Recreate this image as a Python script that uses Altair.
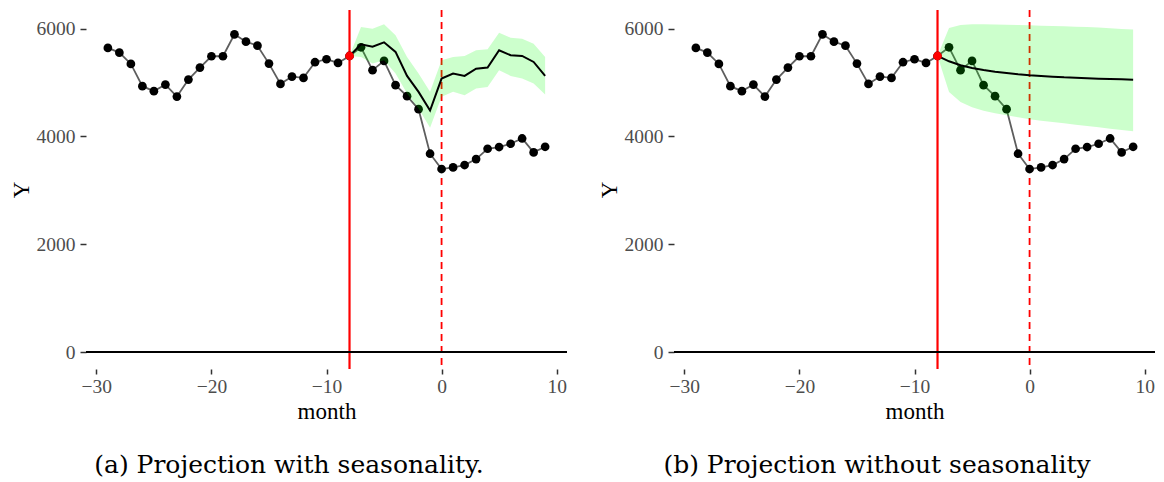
import altair as alt
import pandas as pd

# observed series (month -29 .. 9)
months = list(range(-29, 10))
values = [5643, 5556, 5346, 4933, 4841, 4963, 4741, 5056, 5278, 5489,
          5489, 5896, 5759, 5685, 5352, 4976, 5111, 5087, 5378, 5433,
          5365, 5494, 5655, 5230, 5402, 4952, 4748, 4507, 3680, 3396,
          3426, 3470, 3581, 3772, 3804, 3865, 3963, 3704, 3809]

# projection months (-8 .. 9)
proj_months = list(range(-8, 10))

# (a) with seasonality
seas_fit = [5494, 5711, 5667, 5748, 5569, 5124, 4828, 4481, 5074, 5167,
            5124, 5259, 5278, 5600, 5507, 5494, 5383, 5124]
seas_hi = [5494, 6031, 6000, 6081, 5878, 5476, 5167, 4828, 5415, 5476,
           5494, 5600, 5619, 5926, 5833, 5815, 5722, 5476]
seas_lo = [5494, 5476, 5352, 5415, 5167, 4796, 4519, 4161, 4735, 4828,
           4767, 4889, 4920, 5230, 5124, 5074, 4981, 4778]

# (b) without seasonality
flat_fit = [5494, 5395, 5321, 5271, 5234, 5203, 5178, 5154, 5135, 5122,
            5110, 5098, 5091, 5080, 5072, 5067, 5061, 5054]
flat_hi = [5494, 6013, 6069, 6082, 6082, 6078, 6073, 6069, 6064, 6057,
           6051, 6045, 6038, 6032, 6020, 6008, 5995, 5983]
flat_lo = [5494, 4826, 4640, 4541, 4479, 4430, 4393, 4356, 4319, 4293,
           4269, 4244, 4219, 4195, 4170, 4145, 4120, 4096]

x_ticks = [-30, -20, -10, 0, 10]
y_ticks = [0, 2000, 4000, 6000]
intervention_start = [-8]
intervention_ref = [0]
captions = ["(a) Projection with seasonality.", "(b) Projection without seasonality"]

X_DOMAIN = [-30.9, 10.9]
Y_DOMAIN = [-315, 6347]
W, H = 481, 359

obs = pd.DataFrame({"month": months, "Y": values})
start_pt = obs[obs["month"] == intervention_start[0]]

LABEL_FONT = "Liberation Serif"

x_axis = alt.Axis(values=x_ticks, title="month", grid=False, domain=False, format="d",
                  tickSize=5, tickWidth=1.5, tickColor="#333333",
                  labelFont=LABEL_FONT, labelFontSize=19.5, labelColor="#4d4d4d",
                  labelPadding=3, titleFont=LABEL_FONT, titleFontSize=23,
                  titleFontWeight="normal", titleColor="black", titlePadding=5)
y_axis = alt.Axis(values=y_ticks, title="Y", grid=False, domain=False, format="d",
                  tickSize=6, tickWidth=1.5, tickColor="#333333",
                  labelFont=LABEL_FONT, labelFontSize=19.5, labelColor="#4d4d4d",
                  labelPadding=5, titleFont=LABEL_FONT, titleFontSize=23,
                  titleFontWeight="normal", titleColor="black", titlePadding=3)

xs = alt.Scale(domain=X_DOMAIN, nice=False, zero=False)
ys = alt.Scale(domain=Y_DOMAIN, nice=False, zero=False)


def X(field="month"):
    return alt.X(f"{field}:Q", scale=xs, axis=x_axis)


def Y(field):
    return alt.Y(f"{field}:Q", scale=ys, axis=y_axis)


def panel(fit, lo, hi, caption):
    proj = pd.DataFrame({"month": proj_months, "fit": fit, "lo": lo, "hi": hi})
    v_solid = alt.Chart(pd.DataFrame({"month": intervention_start})).mark_rule(
        color="#ff0000", strokeWidth=2.2).encode(x=X())
    v_dash = alt.Chart(pd.DataFrame({"month": intervention_ref})).mark_rule(
        color="#ff0000", strokeWidth=1.8, strokeDash=[7, 5]).encode(x=X())
    h_zero = alt.Chart(pd.DataFrame({"Y": [0]})).mark_rule(
        color="black", strokeWidth=2).encode(y=Y("Y"))
    obs_line = alt.Chart(obs).mark_line(color="#5e5e5e", strokeWidth=1.8).encode(x=X(), y=Y("Y"))
    obs_pts = alt.Chart(obs).mark_circle(color="black", size=76, opacity=1).encode(x=X(), y=Y("Y"))
    band = alt.Chart(proj).mark_area(color="#00ff00", opacity=0.2).encode(
        x=X(), y=Y("lo"), y2=alt.Y2("hi:Q"))
    fit_line = alt.Chart(proj).mark_line(color="black", strokeWidth=2).encode(x=X(), y=Y("fit"))
    red_pt = alt.Chart(start_pt).mark_circle(color="#ff0000", size=76, opacity=1).encode(x=X(), y=Y("Y"))
    return alt.layer(v_solid, v_dash, h_zero, obs_line, obs_pts, band, fit_line, red_pt).properties(
        width=W, height=H,
        title=alt.TitleParams(text=caption, orient="bottom", anchor="middle", frame="bounds",
                              font="DejaVu Serif", fontSize=25, fontWeight="normal",
                              color="black", offset=29))


chart = alt.hconcat(
    panel(seas_fit, seas_lo, seas_hi, captions[0]),
    panel(flat_fit, flat_lo, flat_hi, captions[1]),
    spacing=30,
).properties(
    padding={"left": 2, "top": 0, "right": 0, "bottom": 0},
    background="white",
).configure_view(stroke=None)

chart.save("out.html", embed_options={"renderer": "svg", "actions": False})
